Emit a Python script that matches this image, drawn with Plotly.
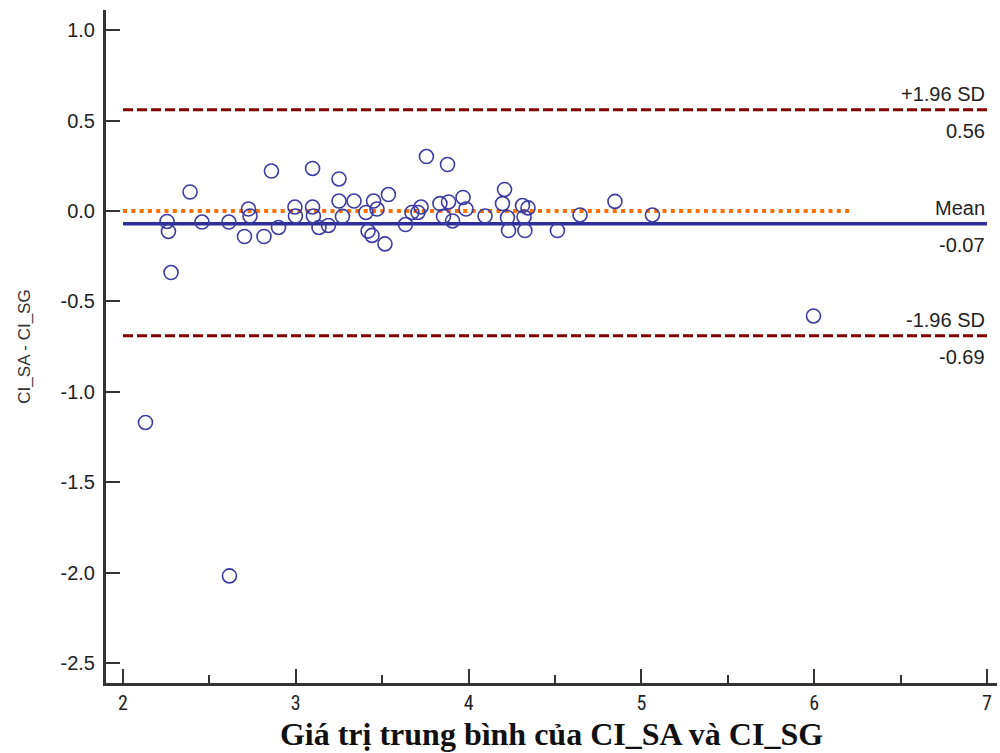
import plotly.graph_objects as go

# Bland-Altman data: mean of CI_SA and CI_SG (x) vs difference (y)
mean_vals = [2.130, 2.616, 5.996, 2.388, 2.255, 2.263, 2.278, 2.457, 2.613, 2.703,
             2.726, 2.735, 2.816, 2.859, 2.900, 2.995, 2.998, 3.097, 3.097, 3.102,
             3.134, 3.189, 3.250, 3.250, 3.270, 3.337, 3.406, 3.418, 3.441, 3.450,
             3.470, 3.516, 3.536, 3.635, 3.672, 3.707, 3.725, 3.756, 3.834, 3.878,
             3.884, 3.855, 3.907, 3.968, 3.985, 4.095, 4.208, 4.196, 4.225, 4.231,
             4.312, 4.326, 4.344, 4.321, 4.514, 4.645, 4.847, 5.064]
diff_vals = [-1.169, -2.017, -0.580, 0.105, -0.058, -0.113, -0.340, -0.061, -0.061, -0.141,
             0.011, -0.028, -0.141, 0.221, -0.091, 0.022, -0.028, 0.235, 0.022, -0.028,
             -0.091, -0.080, 0.177, 0.055, -0.030, 0.055, -0.008, -0.111, -0.135, 0.055,
             0.011, -0.182, 0.091, -0.075, -0.008, -0.008, 0.022, 0.301, 0.041, 0.257,
             0.050, -0.030, -0.055, 0.075, 0.011, -0.028, 0.119, 0.041, -0.036, -0.108,
             0.030, -0.108, 0.017, -0.033, -0.108, -0.022, 0.053, -0.022]

mean_diff = -0.07
upper_loa = 0.56
lower_loa = -0.69
line_x_start = 2
line_x_end = 7
zero_line_end = 6.22

y_ticks = [1.0, 0.5, 0.0, -0.5, -1.0, -1.5, -2.0, -2.5]
y_tick_text = ["1.0", "0.5", "0.0", "-0.5", "-1.0", "-1.5", "-2.0", "-2.5"]
x_ticks = [2, 3, 4, 5, 6, 7]
x_tick_text = ["2", "3", "4", "5", "6", "7"]

AXIS = "#333333"
BLUE = "#3b3ba3"
DARKRED = "#800000"
ORANGE = "#ff7000"

fig = go.Figure()
fig.add_trace(go.Scatter(
    x=mean_vals, y=diff_vals, mode="markers",
    marker=dict(symbol="circle-open", size=14, color=BLUE, line=dict(width=1.6, color=BLUE)),
    showlegend=False, hoverinfo="x+y"))

shapes = [
    dict(type="line", xref="x", yref="y", x0=line_x_start, x1=line_x_end, y0=upper_loa, y1=upper_loa,
         line=dict(color=DARKRED, width=3, dash="10px,4px"), layer="below"),
    dict(type="line", xref="x", yref="y", x0=line_x_start, x1=line_x_end, y0=lower_loa, y1=lower_loa,
         line=dict(color=DARKRED, width=3, dash="10px,4px"), layer="below"),
    dict(type="line", xref="x", yref="y", x0=line_x_start, x1=zero_line_end, y0=0, y1=0,
         line=dict(color=ORANGE, width=4, dash="4px,4.3px"), layer="below"),
    dict(type="line", xref="x", yref="y", x0=line_x_start, x1=line_x_end, y0=mean_diff, y1=mean_diff,
         line=dict(color="#2e2e96", width=3.5), layer="below"),
]

ann_font = dict(family="Liberation Sans, Arial", size=20, color="#222222")
annotations = []
for val, label in [(upper_loa, "+1.96 SD"), (mean_diff, "Mean"), (lower_loa, "-1.96 SD")]:
    annotations.append(dict(x=line_x_end, y=val, xref="x", yref="y", text=label, showarrow=False,
                            xanchor="right", yanchor="bottom", yshift=3, xshift=0, font=ann_font))
    annotations.append(dict(x=line_x_end, y=val, xref="x", yref="y", text=f"{val:.2f}", showarrow=False,
                            xanchor="right", yanchor="top", yshift=-8, xshift=0, font=ann_font))

fig.update_layout(
    width=1000, height=753,
    margin=dict(l=106, r=3, t=10, b=70),
    paper_bgcolor="white", plot_bgcolor="white",
    shapes=shapes, annotations=annotations,
    xaxis=dict(range=[1.9016, 7.058], tickvals=x_ticks, ticktext=x_tick_text,
               ticks="inside", ticklen=14, tickwidth=2, tickcolor=AXIS,
               minor=dict(dtick=0.5, tick0=2, ticks="inside", ticklen=8, tickwidth=2, tickcolor=AXIS),
               showline=True, linecolor=AXIS, linewidth=3, showgrid=False, zeroline=False,
               tickfont=dict(family="Liberation Sans Narrow, Roboto Condensed, Liberation Sans, Arial", size=20, color="#222222"),
               title=dict(text="Giá trị trung bình của CI_SA và CI_SG", standoff=9,
                          font=dict(family="Liberation Serif, Times New Roman", size=32, color="#111111",
                                    weight="bold"))),
    yaxis=dict(range=[-2.609, 1.111], tickvals=y_ticks, ticktext=y_tick_text,
               ticks="inside", ticklen=14, tickwidth=2, tickcolor=AXIS,
               ticklabelstandoff=4,
               showline=True, linecolor=AXIS, linewidth=3, showgrid=False, zeroline=False,
               tickfont=dict(family="Liberation Sans, Arial", size=20, color="#222222"),
               title=dict(text="CI_SA - CI_SG", standoff=26,
                          font=dict(family="Liberation Sans, Arial", size=17, color="#333333"))),
)

fig.write_html("out.html")
